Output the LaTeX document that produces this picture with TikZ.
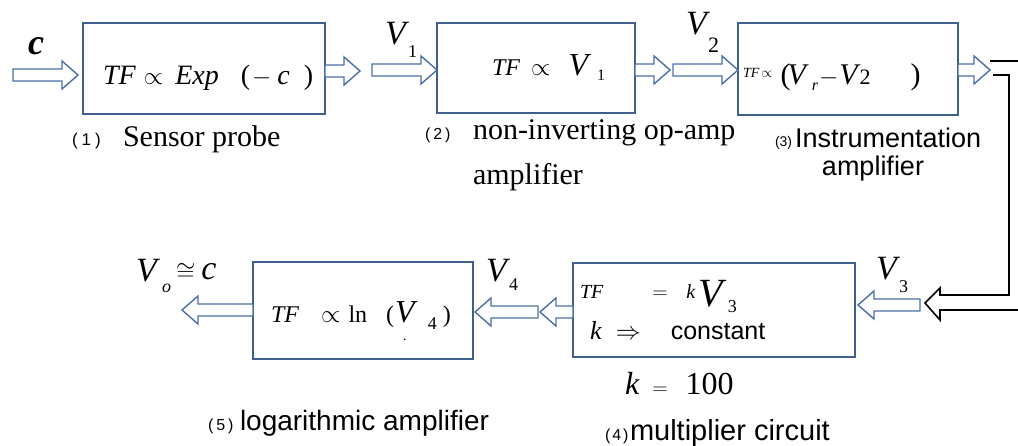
\documentclass[tikz,border=0pt]{standalone}
\usepackage{fontspec}
\setmainfont{Liberation Serif}
\newfontfamily\sansf{Liberation Sans}
\usetikzlibrary{calc}
\newcommand\fs[1]{\fontsize{#1}{#1}\selectfont}
\definecolor{boxblue}{HTML}{3F5F8F}
\definecolor{arrblue}{HTML}{4A6FA8}
\tikzset{
  blockbox/.style={draw=boxblue, line width=1.6pt, inner sep=0pt, outer sep=0pt, anchor=north west},
  hollowarrow/.style={draw=arrblue, fill=white, line width=1.4pt, line join=miter},
  bigarrow/.style={draw=black, line width=1.6pt, line join=miter},
  lbl/.style={anchor=base west, inner sep=0pt, outer sep=0pt, text=black},
}
\newcommand\harrow[2]{%
  \draw[hollowarrow] let \p1=#1, \p2=#2, \n1={(\x2-\x1)/abs(\x2-\x1)} in
    (\x1,{\y1+6pt}) -- ({\x2-(\n1)*16pt},{\y1+6pt}) -- ({\x2-(\n1)*16pt},{\y1+14pt})
    -- (\x2,\y1) -- ({\x2-(\n1)*16pt},{\y1-14pt}) -- ({\x2-(\n1)*16pt},{\y1-6pt})
    -- (\x1,{\y1-6pt}) -- cycle;}
\begin{document}
\begin{tikzpicture}[x=1pt,y=-1pt]
\useasboundingbox (0,0) rectangle (1018,446);
% boxes
\node[blockbox, minimum width=242pt, minimum height=91pt] (bx1) at (83,23) {};
\node[blockbox, minimum width=198pt, minimum height=90pt] (bx2) at (437,23) {};
\node[blockbox, minimum width=220pt, minimum height=92pt] (bx3) at (738,23) {};
\node[blockbox, minimum width=282pt, minimum height=94pt] (bx4) at (573,263) {};
\node[blockbox, minimum width=220pt, minimum height=97pt] (bx5) at (253,262) {};
% free ends of connectors
\coordinate (inC) at (13,75);
\coordinate (m1) at (360,71);
\coordinate (m1b) at (372,70);
\coordinate (m2) at (670,70);
\coordinate (m2b) at (673,70);
\coordinate (m3) at (990,70);
\coordinate (m4) at (920,305);
\coordinate (m5) at (540,312);
\coordinate (m5b) at (538,312);
\coordinate (outV) at (182,310);
% hollow arrows
\harrow{(inC)}{($(bx1.west)+(-5,0)$)}
\harrow{(bx1.east |- m1)}{(m1)}
\harrow{(m1b)}{(bx2.west)}
\harrow{(bx2.east |- m2)}{(m2)}
\harrow{(m2b)}{(bx3.west)}
\harrow{(bx3.east |- m3)}{(m3)}
\harrow{(m4)}{($(bx4.east)+(3,0)$)}
\harrow{(bx4.west |- m5)}{(m5)}
\harrow{(m5b)}{($(bx5.east)+(2,0)$)}
\harrow{(bx5.west |- outV)}{(outV)}
% black return arrow
\coordinate (r1) at (990,61);
\coordinate (r2) at (993,75);
\coordinate (rt) at (925,303);
\draw[bigarrow] (r1) -- (1018,61);
\draw[bigarrow] (r2) -- (1009,75) -- (1009,295) -- (940,295) -- (940,288) -- (rt)
  -- (940,320) -- (940,310) -- (1018,310);
% box contents
\node[lbl] (f1) at (103,85) {\fs{28}\textit{TF}\hspace{8pt}$\propto$\hspace{12pt}\textit{Exp}\hspace{22pt}(\hspace{2pt}$-$\hspace{6pt}\textit{c}\hspace{14pt})};
\node[lbl] (f2) at (492,76) {{\fs{24}\textit{TF}}\hspace{11pt}{\fs{24}$\propto$}\hspace{18pt}{\fs{32}\textit{V}}\hspace{6pt}\raisebox{-5pt}{\fs{16}1}};
\node[lbl] (f3) at (743,85) {\raisebox{7pt}{\fs{14}\textit{TF}\hspace{2pt}$\propto$}\hspace{8pt}{\fs{30}(\kern-3pt\textit{V}}\hspace{3pt}\raisebox{-6pt}{\fs{16}\textit{r}}\hspace{1pt}{\fs{24}$-$}\hspace{1pt}{\fs{30}\textit{V}}\kern-1pt{\fs{22}2}\hspace{40pt}{\fs{30})}};
\node[lbl] (f4a) at (580,299) {{\fs{20}\textit{TF}}\hspace{49pt}{\fs{20}$=$}\hspace{19pt}{\fs{20}\textit{k}}\hspace{3pt}\raisebox{-8pt}{\fs{40}\textit{V}}\kern1pt\raisebox{-14pt}{\fs{18}3}};
\node[lbl] (f4b) at (590,340) {{\fs{26}\textit{k}}\hspace{14pt}{\fs{24}$\Rightarrow$}\hspace{30pt}{\sansf\fs{25}constant}};
\node[lbl] (f5) at (271,323) {{\fs{24}\textit{TF}}\hspace{22pt}{\fs{24}$\propto$}\hspace{8pt}{\fs{24}ln}\hspace{19pt}{\fs{24}(}\kern1pt{\fs{32}\textit{V}}\hspace{10pt}\raisebox{-7pt}{\fs{18}4}\hspace{6pt}{\fs{24})}};
\node[lbl] (dot5) at (403,341) {\fs{14}.};
% signal labels
\node[lbl] (lc) at (28,55) {\fs{36}\textbf{\textit{c}}};
\node[lbl] (lv1) at (385,45) {{\fs{34}\textit{V}}\kern-1pt\raisebox{-13pt}{\fs{18}1}};
\node[lbl] (lv2) at (686,35) {{\fs{34}\textit{V}}\kern-2pt\raisebox{-18pt}{\fs{22}2}};
\node[lbl] (lv3) at (876,280) {{\fs{34}\textit{V}}\kern-1pt\raisebox{-13pt}{\fs{18}3}};
\node[lbl] (lv4) at (486,282) {{\fs{34}\textit{V}}\kern-1pt\raisebox{-9pt}{\fs{18}4}};
\node[lbl] (lvo) at (136,282) {{\fs{34}\textit{V}}\kern2pt\raisebox{-11pt}{\fs{18}\textit{o}}};
\node[lbl] (lvc) at (176,280) {{\fs{26}$\cong$}\hspace{6pt}{\fs{34}\textit{c}}};
% captions
\node[lbl] (n1) at (72,146) {\sansf\fs{17}(\hspace{4pt}1\hspace{4pt})};
\node[lbl] (t1) at (123,147) {\fs{30}Sensor probe};
\node[lbl] (n2) at (425,140) {\sansf\fs{16}(\hspace{3pt}2\hspace{3pt})};
\node[lbl] (t2) at (473,140) {\fs{30}non-inverting op-amp};
\node[lbl] (t2b) at (473,185) {\fs{30}amplifier};
\node[lbl] (n3) at (775,147) {\sansf\fs{14}(3)};
\node[lbl] (t3) at (795,148) {\sansf\fs{27}Instrumentation};
\node[anchor=base, inner sep=0pt] (t3b) at (873,176) {\sansf\fs{27}amplifier};
\node[lbl] (kval) at (625,395) {{\fs{32}\textit{k}}\hspace{13pt}{\fs{22}$=$}\hspace{18pt}{\fs{32}100}};
\node[lbl] (n4) at (605,440) {\sansf\fs{16}(\hspace{2pt}4\hspace{2pt})};
\node[lbl] (t4) at (630,440) {\sansf\fs{29}multiplier circuit};
\node[lbl] (n5) at (208,430) {\sansf\fs{16}(\hspace{3pt}5\hspace{3pt})};
\node[lbl] (t5) at (240,430) {\sansf\fs{28}logarithmic amplifier};
\end{tikzpicture}
\end{document}
